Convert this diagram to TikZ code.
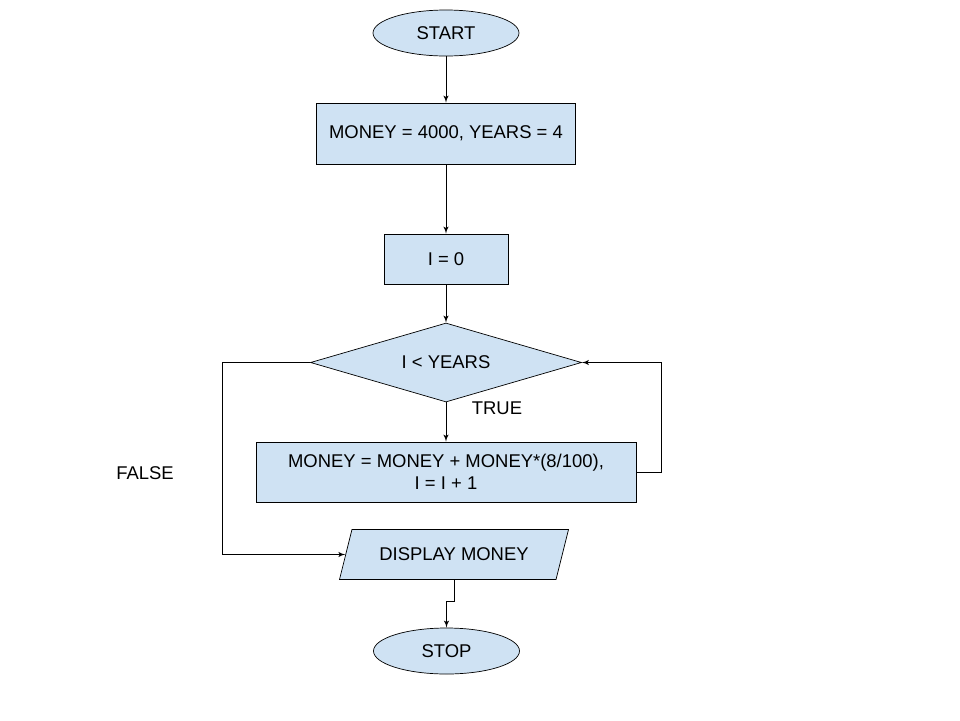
\documentclass[tikz,border=0pt]{standalone}
\usepackage{fontspec}
\setmainfont{Liberation Sans}
\usetikzlibrary{shapes.geometric,arrows,positioning}
\definecolor{boxblue}{HTML}{CFE2F3}

\tikzstyle{terminal} = [ellipse, draw, fill=boxblue, minimum width=2.92cm, minimum height=0.92cm, inner sep=0pt]
\tikzstyle{block} = [rectangle, draw, fill=boxblue, align=center, inner sep=0pt]
\tikzstyle{decision} = [diamond, draw, fill=boxblue, aspect=3.4, minimum width=5.42cm, minimum height=1.58cm, inner sep=0pt]
\tikzstyle{io} = [trapezium, draw, fill=boxblue, trapezium left angle=76, trapezium right angle=104,
    trapezium stretches body, minimum width=4.58cm, inner xsep=0pt, inner ysep=10.5pt]
\tikzstyle{line} = [draw, -latex']

\begin{document}
\begin{tikzpicture}[font=\fontsize{10.5}{12.5}\selectfont, auto]
    \useasboundingbox (0,0) rectangle (19.2,-14.4);
    % Place nodes
    \node [terminal] at (8.92,-0.66) (start) {START};
    \node [block, below of=start, node distance=2.01cm, minimum width=5.18cm, minimum height=1.22cm] (money) {MONEY = 4000, YEARS = 4};
    \node [block, below of=money, node distance=2.51cm, minimum width=2.48cm, minimum height=1cm] (izero) {I = 0};
    \node [decision, below of=izero, node distance=2.07cm] (check) {I < YEARS};
    \node [block, below of=check, node distance=2.19cm, minimum width=7.6cm, minimum height=1.2cm] (update) {MONEY = MONEY + MONEY*(8/100),\\ I = I + 1};
    \node [io, below of=update, node distance=1.65cm, xshift=0.16cm] (display) {DISPLAY MONEY};
    \node [terminal, below of=display, node distance=1.93cm, xshift=-0.15cm] (stop) {STOP};

    \node at (9.94,-8.16) (truelbl) {TRUE};
    \node at (2.90,-9.46) (falselbl) {FALSE};

    % Draw edges
    \path [line] (start) -- (money);
    \path [line] (money) -- (izero);
    \path [line] (izero) -- (check);
    \path [line] (check) -- (update);
    \path [line] (update.east) -- ++(0.5,0) |- (check.east);
    \path [line] (check.west) -- ++(-1.76,0) |- (display.west);
    \path [line] (display.south) -- ++(0,-0.44) -| (stop.north);
\end{tikzpicture}
\end{document}
